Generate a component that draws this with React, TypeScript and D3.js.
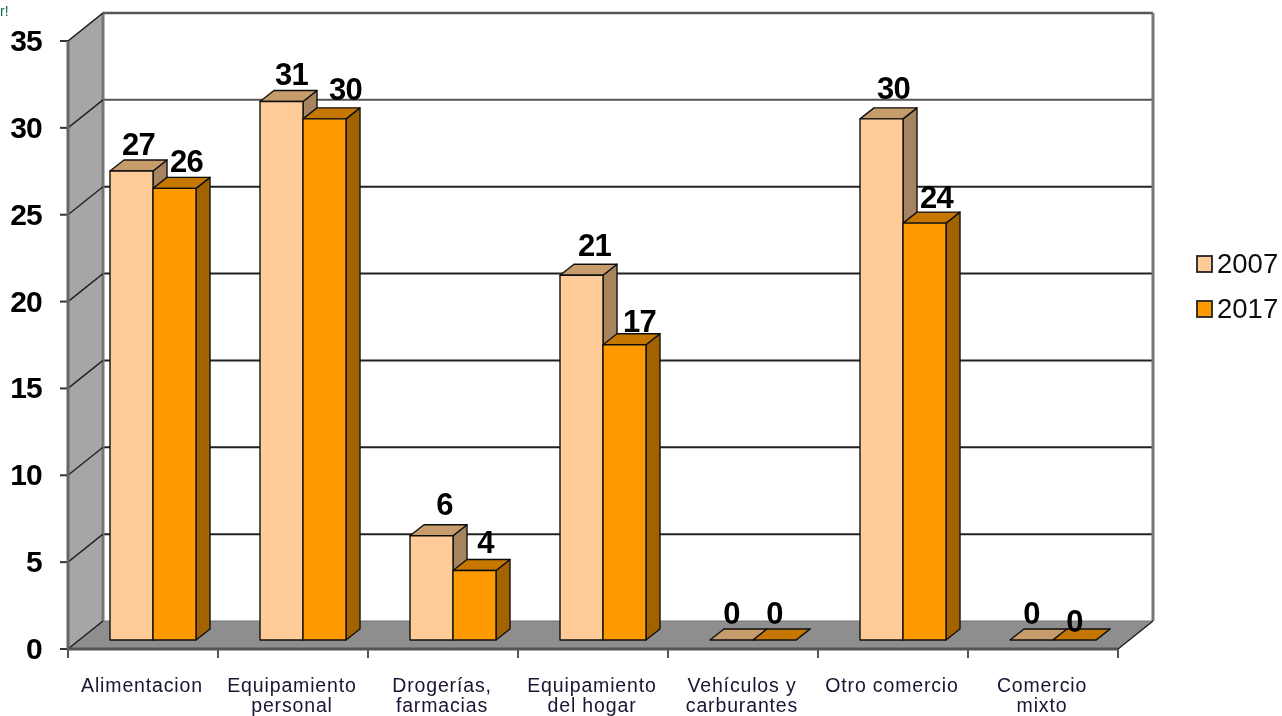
import React from "react";
import * as d3 from "d3";

const categories = [
  ["Alimentacion"],
  ["Equipamiento", "personal"],
  ["Drogerías,", "farmacias"],
  ["Equipamiento", "del hogar"],
  ["Vehículos y", "carburantes"],
  ["Otro comercio"],
  ["Comercio", "mixto"],
];
const years = ["2007", "2017"];
const values2007 = [27, 31, 6, 21, 0, 30, 0];
const values2017 = [26, 30, 4, 17, 0, 24, 0];
const ticks = [0, 5, 10, 15, 20, 25, 30, 35];

// Hand placement of the value labels, relative to the top of each bar.
const nudge2007 = [[7, -16], [10, -16], [13, -21], [13, -19], [0, -16], [12, -20], [0, -16]];
const nudge2017 = [[12, -16], [21, -19], [11, -18], [15, -13], [0, -16], [12, -15], [0, -8]];

const W = 1282;
const H = 716;
const left = 68;
const right = 1118;
const depthX = 35;
const depthY = 28;
const barDx = 14;
const barDy = 11;
const FONT = "'Liberation Sans', Arial, sans-serif";

const colours = [
  { front: "#FFCC99", top: "#C69C6D", side: "#A5845F" },
  { front: "#FF9900", top: "#C67700", side: "#A36200" },
];

export default function App() {
  const y = d3.scaleLinear().domain([0, 35]).range([649, 41]);
  const barBaseShift = 9;
  const x = d3.scaleBand<number>().domain(categories.map((_, i) => i)).range([left, right]);
  const inner = d3.scaleBand<number>().domain([0, 1]).range([42, 128]);
  const backY = (v: number) => y(v) - depthY;
  const backL = left + depthX;
  const backR = right + depthX;
  const pts = (p: number[][]) => p.map((q) => q.join(",")).join(" ");

  const bar = (v: number, ci: number, si: number) => {
    const bx = (x(ci) as number) + (inner(si) as number);
    const w = inner.bandwidth();
    const yb = y(0) - barBaseShift;
    const yt = y(v) - barBaseShift;
    const c = colours[si];
    const st = { stroke: "#111", strokeWidth: 1.4, strokeLinejoin: "round" as const };
    return (
      <g key={`${ci}-${si}`}>
        <polygon points={pts([[bx + w, yt], [bx + w + barDx, yt - barDy], [bx + w + barDx, yb - barDy], [bx + w, yb]])} fill={c.side} {...st} />
        <polygon points={pts([[bx, yt], [bx + barDx, yt - barDy], [bx + w + barDx, yt - barDy], [bx + w, yt]])} fill={c.top} {...st} />
        <rect x={bx} y={yt} width={w} height={yb - yt} fill={c.front} {...st} />
      </g>
    );
  };

  const label = (v: number, ci: number, si: number) => {
    const bx = (x(ci) as number) + (inner(si) as number) + inner.bandwidth() / 2;
    const n = (si === 0 ? nudge2007 : nudge2017)[ci];
    return (
      <text key={`l${ci}-${si}`} x={bx + n[0]} y={y(v) - barBaseShift + n[1]} textAnchor="middle" fontSize={31} letterSpacing={-0.8} fontWeight="bold" fill="#000">
        {v}
      </text>
    );
  };

  return (
    <svg width={W} height={H} viewBox={`0 0 ${W} ${H}`} style={{ position: "absolute", left: 0, top: 0, background: "#fff" }} fontFamily={FONT}>
      <defs>
        <filter id="soft" x="0" y="0" width="100%" height="100%">
          <feGaussianBlur stdDeviation="0.55" />
        </filter>
      </defs>
      <g filter="url(#soft)">
        <text x={0} y={16} fontSize={14} fill="#0B6B50">r!</text>
        {/* side wall and floor */}
        <polygon points={pts([[left, y(0)], [backL, backY(0)], [backL, backY(35)], [left, y(35)]])} fill="#A6A6A6" stroke="#777" strokeWidth={1.5} />
        <polygon points={pts([[left, y(0)], [backL, backY(0)], [backR, backY(0)], [right, y(0)]])} fill="#8E8E8E" stroke="#777" strokeWidth={1} />
        {/* grid on the back wall */}
        {ticks.slice(1).map((t) => (
          <line key={t} x1={backL} x2={backR} y1={backY(t)} y2={backY(t)} stroke={t === 35 || t === 30 ? "#555" : "#222"} strokeWidth={t === 35 ? 2.6 : 2} />
        ))}
        <line x1={backR} x2={backR} y1={backY(35)} y2={backY(0)} stroke="#777" strokeWidth={3} />
        <line x1={backL} x2={backL} y1={backY(35)} y2={backY(0)} stroke="#777" strokeWidth={3} />
        {/* diagonals and ticks of the value axis */}
        {ticks.map((t) => (
          <g key={t}>
            <line x1={left} x2={backL} y1={y(t)} y2={backY(t)} stroke="#222" strokeWidth={1.5} />
            <line x1={left - 8} x2={left} y1={y(t)} y2={y(t)} stroke="#333" strokeWidth={2} />
            <text x={42} y={y(t) + 10} textAnchor="end" fontSize={30} letterSpacing={-0.8} fontWeight="bold" fill="#000">{t}</text>
          </g>
        ))}
        <line x1={left} x2={left} y1={y(35)} y2={y(0)} stroke="#666" strokeWidth={3} />
        <line x1={left} x2={right} y1={y(0)} y2={y(0)} stroke="#555" strokeWidth={3} />
        <line x1={right} x2={backR} y1={y(0)} y2={backY(0)} stroke="#222" strokeWidth={1.5} />
        {/* category ticks and labels */}
        {categories.map((c, i) => (
          <line key={i} x1={x(i) as number} x2={x(i) as number} y1={y(0)} y2={y(0) + 9} stroke="#555" strokeWidth={2} />
        ))}
        <line x1={right} x2={right} y1={y(0)} y2={y(0) + 9} stroke="#555" strokeWidth={2} />
        {categories.map((c, i) => (
          <text key={i} textAnchor="middle" fontSize={19.5} letterSpacing={0.85} fill="#1c1230">
            {c.map((s, k) => (
              <tspan key={k} x={(x(i) as number) + x.bandwidth() / 2 - 1} y={692 + k * 20}>{s}</tspan>
            ))}
          </text>
        ))}
        {/* bars */}
        {categories.map((_, i) => (
          <g key={i}>
            {bar(values2007[i], i, 0)}
            {bar(values2017[i], i, 1)}
          </g>
        ))}
        {categories.map((_, i) => (
          <g key={i}>
            {label(values2007[i], i, 0)}
            {label(values2017[i], i, 1)}
          </g>
        ))}
        {/* legend */}
        {years.map((yr, i) => (
          <g key={yr}>
            <rect x={1197} y={256 + i * 45} width={15} height={16} fill={colours[i].front} stroke="#222" strokeWidth={1.8} />
            <text x={1217} y={273 + i * 45} fontSize={27.5} fill="#111">{yr}</text>
          </g>
        ))}
      </g>
    </svg>
  );
}
